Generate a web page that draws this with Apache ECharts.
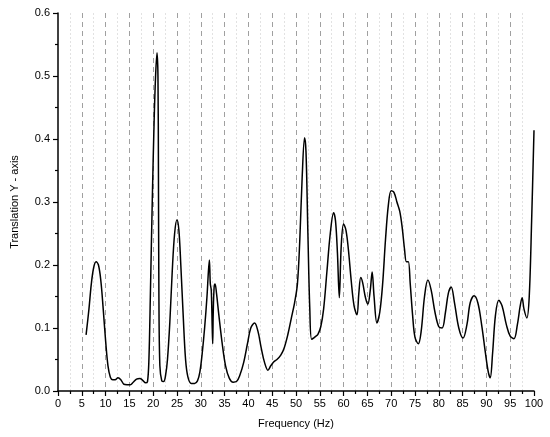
<!DOCTYPE html>
<html>
<head>
<meta charset="utf-8">
<script src="https://cdn.jsdelivr.net/npm/echarts@6/dist/echarts.min.js"></script>
<style>html,body{margin:0;padding:0;background:#fff}#c{width:550px;height:437px}</style>
</head>
<body>
<div id="c"></div>
<script>
var freq = [5.9,6.5,7.0,7.5,8.0,8.5,9.0,9.5,10.0,10.5,11.0,11.5,12.0,12.6,13.2,13.8,14.5,15.2,15.8,16.5,17.2,17.8,18.4,18.8,19.1,19.4,19.8,20.2,20.5,20.8,21.0,21.1,21.2,21.4,21.8,22.2,22.6,23.0,23.5,24.0,24.5,25.0,25.4,25.8,26.3,26.8,27.3,28.0,28.7,29.3,29.8,30.3,30.8,31.3,31.6,31.8,32.0,32.2,32.4,32.5,32.6,32.8,33.0,33.3,33.8,34.5,35.2,36.0,36.8,37.5,38.2,39.0,39.8,40.5,41.3,42.0,42.7,43.4,44.1,44.7,45.3,46.0,46.8,47.5,48.3,49.0,49.7,50.3,50.8,51.3,51.8,52.1,52.5,52.9,53.3,54.0,54.6,55.2,55.8,56.5,57.2,57.9,58.3,58.7,59.1,59.5,60.0,60.5,61.0,61.6,62.2,62.8,63.2,63.6,64.0,64.6,65.1,65.6,66.0,66.4,67.0,67.6,68.2,68.8,69.4,70.0,70.6,71.2,71.8,72.3,72.8,73.2,73.6,74.0,74.5,75.0,75.7,76.3,77.0,77.7,78.4,79.2,80.0,80.7,81.4,82.0,82.6,83.3,84.2,85.1,85.9,86.6,87.4,88.2,89.0,89.8,90.4,90.8,91.3,91.9,92.6,93.3,94.2,95.0,95.8,96.5,97.1,97.5,97.9,98.5,99.0,99.5,100.0];
var translationY = [0.089,0.130,0.170,0.196,0.205,0.200,0.175,0.130,0.080,0.040,0.022,0.018,0.018,0.021,0.018,0.011,0.010,0.010,0.014,0.019,0.020,0.017,0.013,0.015,0.050,0.150,0.300,0.430,0.500,0.537,0.500,0.350,0.150,0.040,0.016,0.015,0.025,0.050,0.110,0.190,0.250,0.272,0.255,0.200,0.120,0.050,0.022,0.012,0.012,0.016,0.030,0.060,0.100,0.150,0.190,0.208,0.170,0.160,0.100,0.075,0.120,0.165,0.170,0.155,0.120,0.075,0.040,0.020,0.014,0.015,0.025,0.045,0.075,0.100,0.108,0.095,0.068,0.045,0.033,0.040,0.046,0.050,0.057,0.068,0.090,0.115,0.140,0.170,0.240,0.340,0.402,0.380,0.250,0.130,0.082,0.086,0.090,0.102,0.130,0.190,0.250,0.283,0.270,0.220,0.148,0.230,0.265,0.255,0.225,0.175,0.135,0.121,0.155,0.180,0.172,0.148,0.138,0.160,0.189,0.150,0.108,0.125,0.170,0.240,0.295,0.318,0.315,0.300,0.285,0.260,0.225,0.205,0.205,0.170,0.120,0.085,0.075,0.095,0.150,0.176,0.160,0.125,0.102,0.100,0.125,0.155,0.165,0.140,0.100,0.084,0.105,0.140,0.151,0.140,0.105,0.060,0.030,0.021,0.060,0.120,0.144,0.135,0.105,0.087,0.083,0.105,0.135,0.148,0.130,0.116,0.150,0.270,0.414];

var xTickStep = 5, yTickStep = 0.1;
var data = freq.map(function (f, i) { return [f, translationY[i]]; });
var fontFam = 'Liberation Sans, Arial, sans-serif';
var chart = echarts.init(document.getElementById('c'), null, {renderer: 'canvas'});
chart.setOption({
  animation: false,
  backgroundColor: '#fff',
  grid: {left: 58, right: 16, top: 13, bottom: 46},
  xAxis: {
    type: 'value', min: 0, max: 100, interval: xTickStep,
    name: 'Frequency (Hz)', nameLocation: 'middle', nameGap: 27,
    nameTextStyle: {fontFamily: fontFam, fontSize: 11, color: '#000'},
    axisLine: {show: true, onZero: false, lineStyle: {color: '#000', width: 1.5}},
    axisTick: {show: true, inside: false, length: 5, lineStyle: {color: '#000', width: 1.2}},
    minorTick: {show: true, splitNumber: 2, length: 3, lineStyle: {color: '#000', width: 1.2}},
    axisLabel: {fontFamily: fontFam, fontSize: 11, color: '#000', margin: 7},
    splitLine: {show: true, showMinLine: false, showMaxLine: false, lineStyle: {color: '#a0a0a0', type: [5, 4], width: 1}},
    minorSplitLine: {show: true, lineStyle: {color: '#e2e2e2', type: [2, 2], width: 1}}
  },
  yAxis: {
    type: 'value', min: 0, max: 0.6, interval: yTickStep,
    name: 'Translation Y - axis', nameLocation: 'middle', nameGap: 38,
    nameTextStyle: {fontFamily: fontFam, fontSize: 11, color: '#000'},
    axisLine: {show: true, lineStyle: {color: '#000', width: 1.5}},
    axisTick: {show: true, inside: false, length: 5, lineStyle: {color: '#000', width: 1.2}},
    minorTick: {show: true, splitNumber: 2, length: 3, lineStyle: {color: '#000', width: 1.2}},
    axisLabel: {fontFamily: fontFam, fontSize: 11, color: '#000', margin: 8, formatter: function (v) { return v.toFixed(1); }},
    splitLine: {show: false}
  },
  series: [{
    type: 'line', data: data, showSymbol: false, smooth: 0.35,
    lineStyle: {color: '#000', width: 1.5}
  }]
});
</script>
</body>
</html>
